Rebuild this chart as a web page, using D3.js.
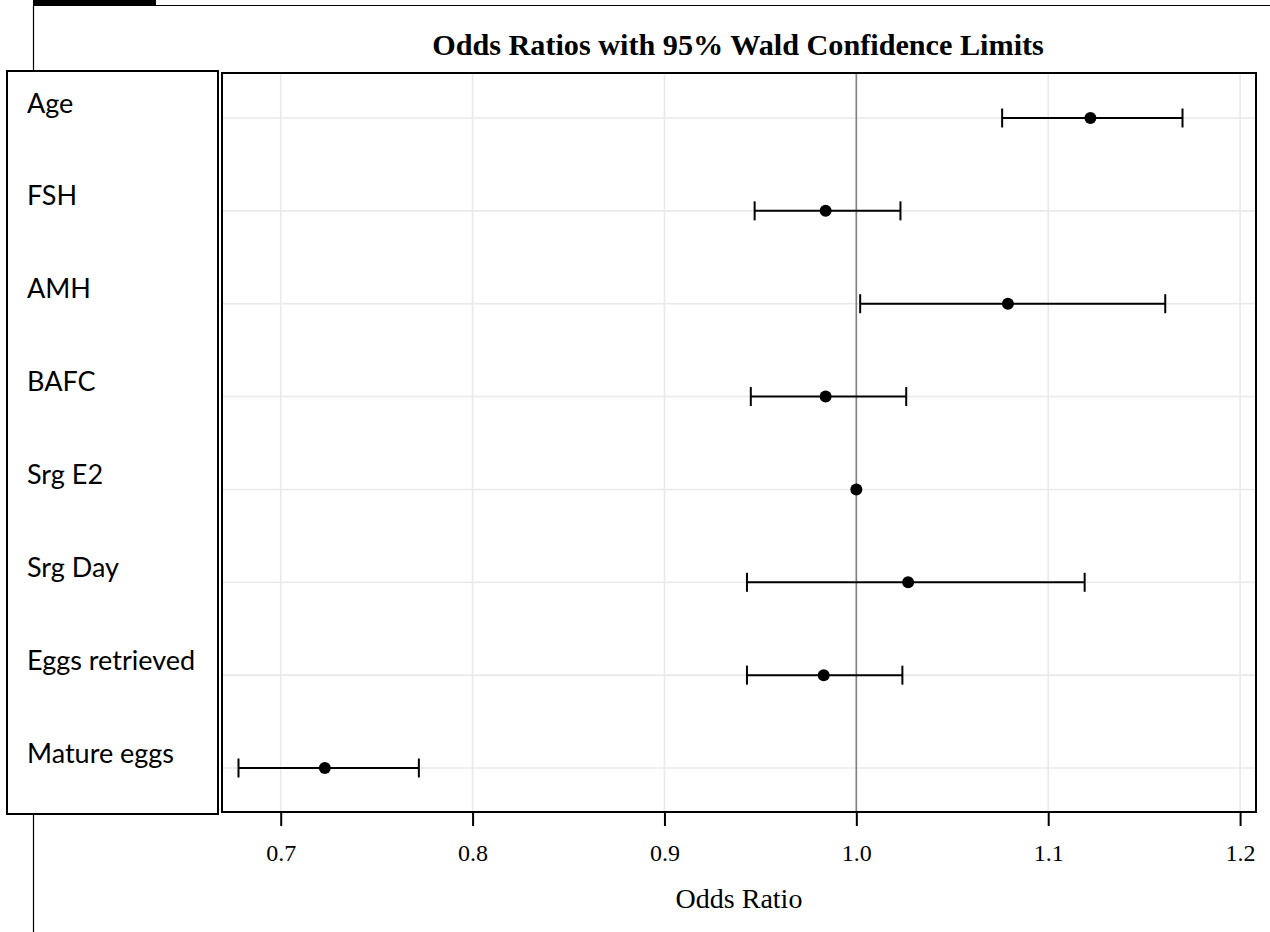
<!DOCTYPE html>
<html>
<head>
<meta charset="utf-8">
<script src="https://cdn.jsdelivr.net/npm/d3@7"></script>
<style>
  html, body { margin: 0; padding: 0; background: #fff; }
  svg { display: block; }
</style>
</head>
<body>
<div id="chart"></div>
<script>
// ---- data ----
const variables = ["Age", "FSH", "AMH", "BAFC", "Srg E2", "Srg Day", "Eggs retrieved", "Mature eggs"];
const oddsRatio = [1.122, 0.984, 1.079, 0.984, 1.000, 1.027, 0.983, 0.723];
const lowerCL   = [1.076, 0.947, 1.002, 0.945, 0.9996, 0.943, 0.943, 0.678];
const upperCL   = [1.170, 1.023, 1.161, 1.026, 1.0004, 1.119, 1.024, 0.772];
const xTicks    = [0.7, 0.8, 0.9, 1.0, 1.1, 1.2];
const titleText = "Odds Ratios with 95% Wald Confidence Limits";
const xLabel    = "Odds Ratio";

// ---- layout ----
const W = 1270, H = 932;
const plot = { left: 222, right: 1256, top: 73, bottom: 812 };
const labelBox = { left: 7, right: 218, top: 71, bottom: 814 };

const svg = d3.select("#chart").append("svg")
  .attr("width", W).attr("height", H)
  .attr("viewBox", `0 0 ${W} ${H}`);

svg.append("rect").attr("width", W).attr("height", H).attr("fill", "#fff");

const x = d3.scaleLinear().domain([0.6694, 1.2083]).range([plot.left, plot.right]);
const y = d3.scalePoint().domain(variables).range([118, 768]);

const rows = variables.map((v, i) => ({ v, or: oddsRatio[i], lo: lowerCL[i], hi: upperCL[i] }));

// outer page frame lines
svg.append("rect").attr("x", 33).attr("y", 0).attr("width", 123).attr("height", 5).attr("fill", "#000");
svg.append("line").attr("x1", 33).attr("x2", W).attr("y1", 5.5).attr("y2", 5.5)
  .attr("stroke", "#000").attr("stroke-width", 1.2);
svg.append("line").attr("x1", 33.5).attr("x2", 33.5).attr("y1", 5).attr("y2", H)
  .attr("stroke", "#000").attr("stroke-width", 1.2);

// title
svg.append("text")
  .attr("x", 738).attr("y", 55)
  .attr("text-anchor", "middle")
  .attr("font-family", "'Liberation Serif', 'Times New Roman', serif")
  .attr("font-weight", "bold").attr("font-size", 30.2)
  .attr("fill", "#000")
  .text(titleText);

// plot background
svg.append("rect")
  .attr("x", plot.left).attr("y", plot.top)
  .attr("width", plot.right - plot.left).attr("height", plot.bottom - plot.top)
  .attr("fill", "#fff");

const g = svg.append("g");

// grid lines
g.selectAll("line.vgrid").data(xTicks).join("line")
  .attr("class", "vgrid")
  .attr("x1", d => x(d)).attr("x2", d => x(d))
  .attr("y1", plot.top).attr("y2", plot.bottom)
  .attr("stroke", "#e9e9e9").attr("stroke-width", 1.6);

g.selectAll("line.hgrid").data(variables).join("line")
  .attr("class", "hgrid")
  .attr("x1", plot.left).attr("x2", plot.right)
  .attr("y1", d => y(d)).attr("y2", d => y(d))
  .attr("stroke", "#e9e9e9").attr("stroke-width", 1.6);

// reference line at 1
g.append("line")
  .attr("x1", x(1)).attr("x2", x(1))
  .attr("y1", plot.top).attr("y2", plot.bottom)
  .attr("stroke", "#808080").attr("stroke-width", 1.6);

// error bars (drawn only when wider than the marker)
const markerR = 6;
const capH = 9.5;
const bars = rows.filter(d => x(d.hi) - x(d.lo) > 2 * markerR);

g.selectAll("line.ci").data(bars).join("line")
  .attr("class", "ci")
  .attr("x1", d => x(d.lo)).attr("x2", d => x(d.hi))
  .attr("y1", d => y(d.v)).attr("y2", d => y(d.v))
  .attr("stroke", "#000").attr("stroke-width", 2);

g.selectAll("line.capL").data(bars).join("line")
  .attr("class", "capL")
  .attr("x1", d => x(d.lo)).attr("x2", d => x(d.lo))
  .attr("y1", d => y(d.v) - capH).attr("y2", d => y(d.v) + capH)
  .attr("stroke", "#000").attr("stroke-width", 2);

g.selectAll("line.capR").data(bars).join("line")
  .attr("class", "capR")
  .attr("x1", d => x(d.hi)).attr("x2", d => x(d.hi))
  .attr("y1", d => y(d.v) - capH).attr("y2", d => y(d.v) + capH)
  .attr("stroke", "#000").attr("stroke-width", 2);

g.selectAll("circle.pt").data(rows).join("circle")
  .attr("class", "pt")
  .attr("cx", d => x(d.or)).attr("cy", d => y(d.v))
  .attr("r", markerR).attr("fill", "#000");

// plot frame
svg.append("rect")
  .attr("x", plot.left).attr("y", plot.top)
  .attr("width", plot.right - plot.left).attr("height", plot.bottom - plot.top)
  .attr("fill", "none").attr("stroke", "#000").attr("stroke-width", 2);

// x axis
const xAxis = d3.axisBottom(x).tickValues(xTicks).tickFormat(d3.format(".1f"))
  .tickSize(14).tickPadding(18);
const ax = svg.append("g").attr("transform", `translate(0,${plot.bottom})`).call(xAxis);
ax.select(".domain").remove();
ax.selectAll(".tick line").attr("stroke", "#000").attr("stroke-width", 2);
ax.selectAll(".tick text")
  .attr("font-family", "'Liberation Serif', 'Times New Roman', serif")
  .attr("font-size", 24).attr("fill", "#000");

svg.append("text")
  .attr("x", (plot.left + plot.right) / 2).attr("y", 908)
  .attr("text-anchor", "middle")
  .attr("font-family", "'Liberation Serif', 'Times New Roman', serif")
  .attr("font-size", 28).attr("fill", "#000")
  .text(xLabel);

// label box
svg.append("rect")
  .attr("x", labelBox.left).attr("y", labelBox.top)
  .attr("width", labelBox.right - labelBox.left).attr("height", labelBox.bottom - labelBox.top)
  .attr("fill", "#fff").attr("stroke", "#000").attr("stroke-width", 2);

svg.selectAll("text.rowlab").data(variables).join("text")
  .attr("class", "rowlab")
  .attr("x", 27).attr("y", d => y(d) - 5.5)
  .attr("font-family", "Lato, 'Open Sans', sans-serif")
  .attr("font-size", 27).attr("fill", "#000")
  .text(d => d);
</script>
</body>
</html>
